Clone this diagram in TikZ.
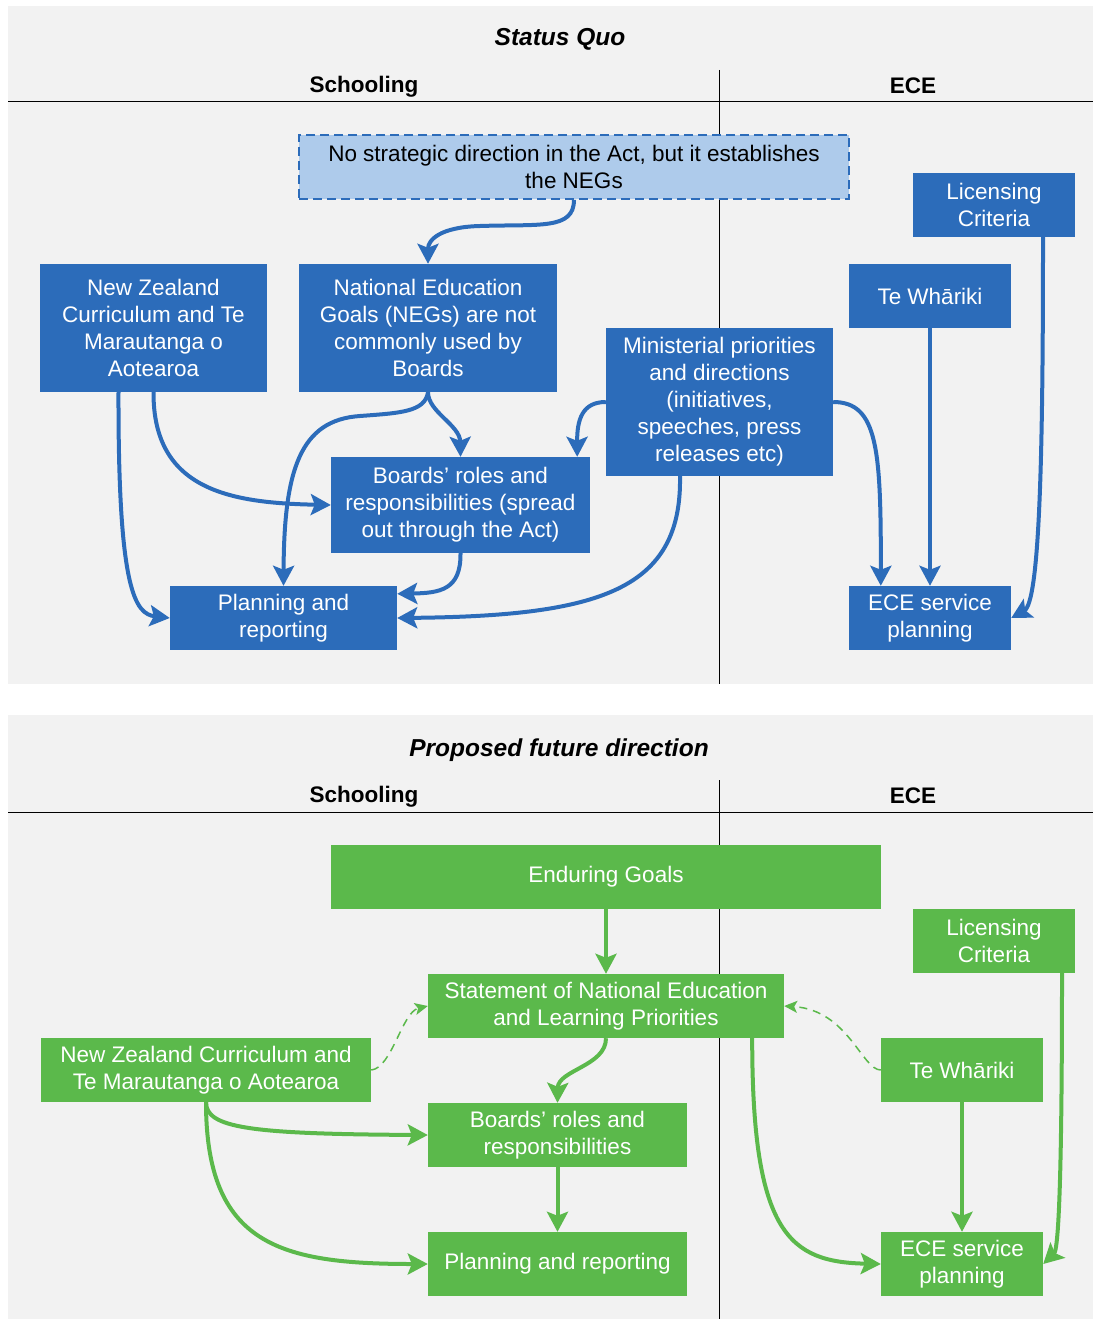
\documentclass[tikz,border=0pt]{standalone}
\usepackage{fontspec}
\setmainfont{Liberation Sans}
\usetikzlibrary{arrows.meta,calc}
\definecolor{bl}{HTML}{2C6CBA}
\definecolor{lbl}{HTML}{AECBEB}
\definecolor{gr}{HTML}{5BB94B}
\definecolor{bg}{HTML}{F2F2F2}
\tikzset{
  txt/.style={font=\fontsize{22.5}{27}\selectfont},
  box/.style={rectangle, inner sep=0pt, align=center, text=white, txt},
  bbox/.style={box, fill=bl},
  gbox/.style={box, fill=gr},
  conn/.style={line width=4pt, -{Stealth[length=20pt,width=21pt,inset=4pt]}},
  bconn/.style={conn, draw=bl},
  gconn/.style={conn, draw=gr},
  dconn/.style={draw=gr, line width=1.5pt, dash pattern=on 8pt off 6pt, -{Stealth[length=13pt,width=12pt,inset=3pt]}},
  hdr/.style={font=\fontsize{22.5}{27}\selectfont\bfseries},
  ttl/.style={font=\fontsize{24.5}{29}\selectfont\bfseries\itshape},
}
\begin{document}
\begin{tikzpicture}[x=1pt,y=-1pt]
\useasboundingbox (0,0) rectangle (1093,1319);
\fill[white] (0,0) rectangle (1093,1319);
% panels
\fill[bg] (8,6) rectangle (1093,684);
\fill[bg] (8,715) rectangle (1093,1319);
\draw[line width=1pt] (8,102) -- (1093,102);
\draw[line width=1pt] (719,70) -- (719,684);
\draw[line width=1pt] (8,812) -- (1093,812);
\draw[line width=1pt] (719,780) -- (719,1319);
\node[ttl] (t1) at (560,39) {Status Quo};
\node[hdr] (h1) at (364,87) {Schooling};
\node[hdr] (h2) at (913,86) {ECE};
\node[ttl] (t2) at (559,750) {Proposed future direction};
\node[hdr] (h3) at (364,797) {Schooling};
\node[hdr] (h4) at (913,796) {ECE};

% top nodes
\node[box, fill=lbl, text=black, draw=bl, line width=1.5pt, dash pattern=on 9pt off 5pt, minimum width=550pt, minimum height=64pt] (ns) at (574,167) {No strategic direction in the Act, but it establishes\\the NEGs};
\node[bbox, minimum width=227pt, minimum height=128pt] (nzc) at (153.5,328) {New Zealand\\Curriculum and Te\\Marautanga o\\Aotearoa};
\node[bbox, minimum width=258pt, minimum height=128pt] (neg) at (428,328) {National Education\\Goals (NEGs) are not\\commonly used by\\Boards};
\node[bbox, minimum width=227pt, minimum height=148pt] (min) at (719.5,402) {Ministerial priorities\\and directions\\(initiatives,\\speeches, press\\releases etc)};
\node[bbox, minimum width=259pt, minimum height=96pt] (brd) at (460.5,505) {Boards’ roles and\\responsibilities (spread\\out through the Act)};
\node[bbox, minimum width=227pt, minimum height=64pt] (pln) at (283.5,618) {Planning and\\reporting};
\node[bbox, minimum width=162pt, minimum height=64pt] (lic) at (994,205) {Licensing\\Criteria};
\node[bbox, minimum width=162pt, minimum height=64pt] (tew) at (930,296) {Te Whāriki};
\node[bbox, minimum width=162pt, minimum height=64pt] (ece) at (930,618) {ECE service\\planning};

% top connectors
\draw[bconn] (ns.south) .. controls (574,230) and (540,224) .. (480,226) .. controls (440,227) and (428,240) .. (neg.north);
\draw[bconn] (neg.south) .. controls (428,412) and (460,425) .. (brd.north);
\draw[bconn] (neg.south) .. controls (425,412) and (400,413) .. (360,416) .. controls (300,420) and (284,470) .. (pln.north);
\draw[bconn] (nzc.south) .. controls (153,490) and (230,503) .. (brd.west);
\draw[bconn] ($(nzc.south)+(-35,0)$) .. controls (118,590) and (135,614) .. (pln.west);
\draw[bconn] (brd.south) .. controls (461,590) and (440,593) .. ($(pln.north east)+(0,8)$);
\draw[bconn] ($(min.south)+(-39.5,0)$) .. controls (682,590) and (600,616) .. (pln.east);
\draw[bconn] (min.west) .. controls (582,402) and (577,420) .. ($(brd.north east)+(-13,0)$);
\draw[bconn] (min.east) .. controls (878,402) and (881,450) .. ($(ece.north west)+(32,0)$);
\draw[bconn] (tew.south) -- (ece.north);
\draw[bconn] ($(lic.south)+(49,0)$) .. controls (1043,450) and (1040,602) .. (ece.east);

% bottom nodes
\node[gbox, minimum width=550pt, minimum height=64pt] (end) at (606,877) {Enduring Goals};
\node[gbox, minimum width=356pt, minimum height=64pt] (stm) at (606,1006) {Statement of National Education\\and Learning Priorities};
\node[gbox, minimum width=330pt, minimum height=64pt] (nzc2) at (206,1070) {New Zealand Curriculum and\\Te Marautanga o Aotearoa};
\node[gbox, minimum width=259pt, minimum height=64pt] (brd2) at (557.5,1135) {Boards’ roles and\\responsibilities};
\node[gbox, minimum width=259pt, minimum height=64pt] (pln2) at (557.5,1264) {Planning and reporting};
\node[gbox, minimum width=162pt, minimum height=64pt] (lic2) at (994,941) {Licensing\\Criteria};
\node[gbox, minimum width=162pt, minimum height=64pt] (tew2) at (962,1070) {Te Whāriki};
\node[gbox, minimum width=162pt, minimum height=64pt] (ece2) at (962,1264) {ECE service\\planning};

% bottom connectors
\draw[gconn] (end.south) -- (stm.north);
\draw[gconn] (stm.south) .. controls (606,1066) and (558,1070) .. (brd2.north);
\draw[gconn] (brd2.south) -- (pln2.north);
\draw[gconn] (nzc2.south) .. controls (206,1128) and (250,1134) .. (brd2.west);
\draw[gconn] (nzc2.south) .. controls (206,1245) and (280,1264) .. (pln2.west);
\draw[dconn] (nzc2.east) .. controls (392,1068) and (402,1012) .. (stm.west);
\draw[dconn] (tew2.west) .. controls (862,1070) and (848,1010) .. (stm.east);
\draw[gconn] ($(stm.south east)+(-32,0)$) .. controls (752,1235) and (790,1262) .. (ece2.west);
\draw[gconn] (tew2.south) -- (ece2.north);
\draw[gconn] ($(lic2.south)+(68,0)$) .. controls (1062,1130) and (1060,1248) .. (ece2.east);
\end{tikzpicture}
\end{document}
